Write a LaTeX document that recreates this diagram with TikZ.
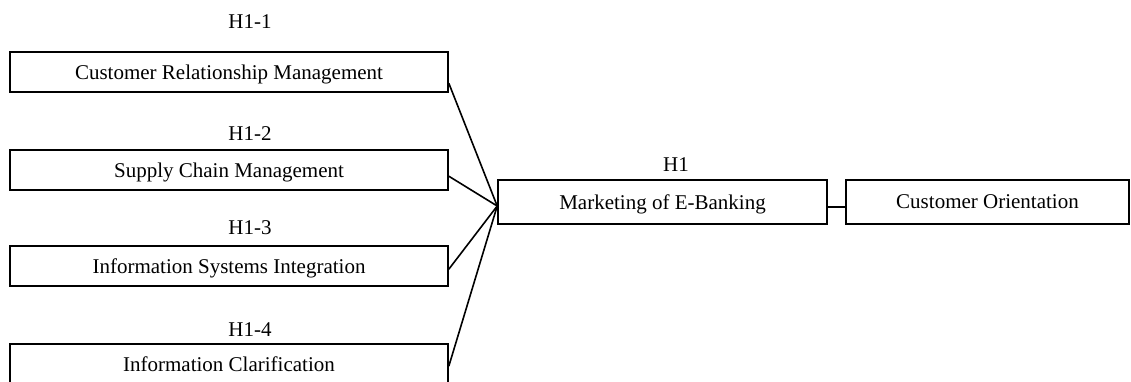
\documentclass[tikz,border=0pt]{standalone}
\usepackage{fontspec}
\setmainfont{Liberation Serif}
\usetikzlibrary{calc}
\begin{document}
\begin{tikzpicture}[x=1pt,y=-1pt,
  box/.style={draw,line width=1.6pt,inner sep=0pt,minimum height=40pt,text depth=0pt,font=\fontsize{21}{24}\selectfont},
  hyp/.style={inner sep=0pt,font=\fontsize{21}{24}\selectfont}]
\useasboundingbox (0,0) rectangle (1131,381);
% left boxes
\node[box,minimum width=438pt] (crm) at (229,72) {Customer Relationship Management};
\node[box,minimum width=438pt] (scm) at (229,170) {Supply Chain Management};
\node[box,minimum width=438pt] (isi) at (229,266) {Information Systems Integration};
\node[box,minimum width=438pt] (ic) at (229,364) {Information Clarification};
\node[hyp] (h11) at (250,22) {H1-1};
\node[hyp] (h12) at (250,134) {H1-2};
\node[hyp] (h13) at (250,228) {H1-3};
\node[hyp] (h14) at (250,330) {H1-4};
% middle and right
\node[box,minimum width=329pt,minimum height=44pt] (mkt) at (662.5,202) {Marketing of E-Banking};
\node[box,minimum width=283pt,minimum height=44pt] (ori) at (987.5,202) {Customer Orientation};
\node[hyp] (h1) at (676,165) {H1};
\coordinate (hub) at ($(mkt.west)+(0,4)$);
\draw[line width=1.6pt] ($(crm.north east)+(0,32)$) -- (hub);
\draw[line width=1.6pt] ($(scm.north east)+(0,27)$) -- (hub);
\draw[line width=1.6pt] ($(isi.north east)+(0,24)$) -- (hub);
\draw[line width=1.6pt] ($(ic.north east)+(0,23)$) -- (hub);
\draw[line width=1.6pt] ($(mkt.east)+(0,5)$) -- ($(ori.west)+(0,5)$);
\end{tikzpicture}
\end{document}
